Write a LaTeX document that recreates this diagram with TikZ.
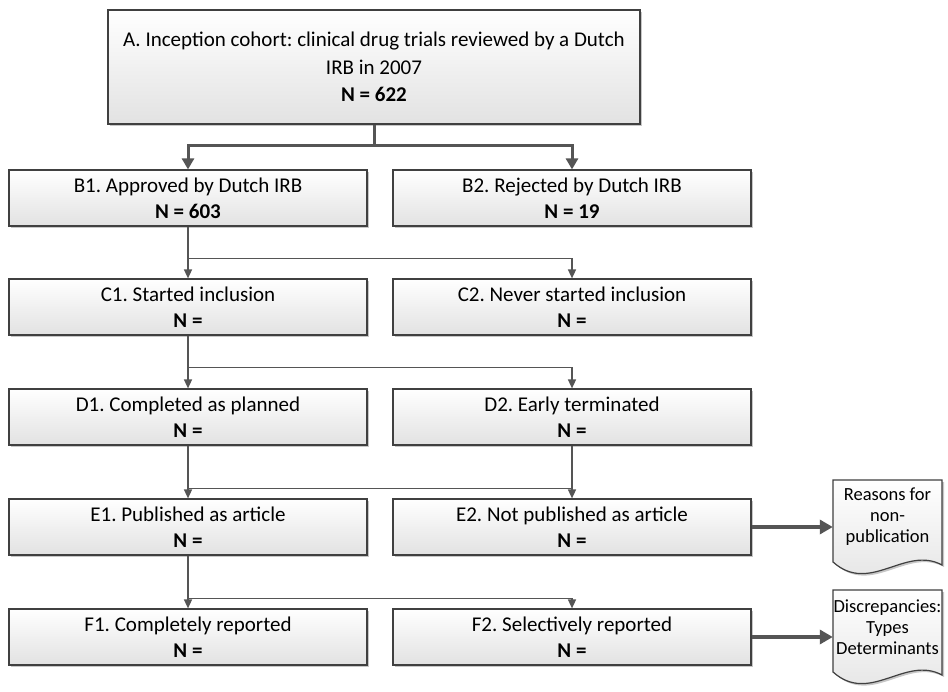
\documentclass[tikz,border=0pt]{standalone}
\usepackage{fontspec}
\setmainfont{Carlito}
\frenchspacing
\usetikzlibrary{arrows.meta,shadows,calc}
\definecolor{edgecol}{HTML}{404040}
\definecolor{conncol}{HTML}{555555}
\definecolor{boxbot}{HTML}{E2E2E2}
\tikzset{
  shadowed/.style={drop shadow={shadow xshift=2pt, shadow yshift=-2pt, fill=black, opacity=0.22}},
  box/.style={draw=edgecol, line width=1.2pt, top color=white, bottom color=boxbot,
    minimum width=358pt, minimum height=56pt, inner sep=0pt, align=center,
    font=\fontsize{21}{26}\selectfont, shadowed},
  docfill/.style={draw=edgecol, line width=1.2pt, top color=white, bottom color=boxbot, shadowed},
  doctext/.style={minimum width=109pt, inner sep=0pt, align=center, font=\fontsize{18.5}{21}\selectfont},
  conn/.style={draw=conncol, line width=1.5pt},
  arr/.style={conn, -{Triangle[length=9pt,width=8pt]}},
  bigconn/.style={draw=conncol, line width=3pt},
  bigarr/.style={bigconn, -{Triangle[length=11pt,width=12pt]}},
  docarr/.style={draw=conncol, line width=3.5pt, -{Triangle[length=13pt,width=14pt]}}
}
\begin{document}
\begin{tikzpicture}[x=1pt,y=-1pt]
\useasboundingbox (0,0) rectangle (948,692);
\fill[white] (0,0) rectangle (948,692);

\node[box, minimum width=532pt, minimum height=114pt, font=\fontsize{21}{27.5}\selectfont] (A) at (374,67)
  {A. Inception cohort: clinical drug trials reviewed by a Dutch\\IRB in 2007\\\textbf{N = 622}};

\node[box] (B1) at (188,198) {B1. Approved by Dutch IRB\\\textbf{N = 603}};
\node[box] (B2) at (572,198) {B2. Rejected by Dutch IRB\\\textbf{N = 19}};
\node[box] (C1) at (188,307) {C1. Started inclusion\\\textbf{N =}};
\node[box] (C2) at (572,307) {C2. Never started inclusion\\\textbf{N =}};
\node[box] (D1) at (188,417) {D1. Completed as planned\\\textbf{N =}};
\node[box] (D2) at (572,417) {D2. Early terminated\\\textbf{N =}};
\node[box] (E1) at (188,527) {E1. Published as article\\\textbf{N =}};
\node[box] (E2) at (572,527) {E2. Not published as article\\\textbf{N =}};
\node[box] (F1) at (188,637) {F1. Completely reported\\\textbf{N =}};
\node[box] (F2) at (572,637) {F2. Selectively reported\\\textbf{N =}};

\begin{scope}[shift={(887.5,517)}]
  \path[docfill] (-54.5,-37) -- (54.5,-37) -- (54.5,48) .. controls (17.5,28) and (-17.5,78) .. (-54.5,45) -- cycle;
  \node[doctext] (R) at (0,0) {Reasons for\\non-\\publication};
\end{scope}
\begin{scope}[shift={(887.5,627)}]
  \path[docfill] (-54.5,-37) -- (54.5,-37) -- (54.5,48) .. controls (17.5,28) and (-17.5,78) .. (-54.5,45) -- cycle;
  \node[doctext] (S) at (0,0) {Discrepancies:\\Types\\Determinants};
\end{scope}

% A -> B
\draw[bigconn] (A.south) -- ++(0,21) coordinate (ab);
\draw[bigarr] (ab) -| (B1.north);
\draw[bigarr] (ab) -| (B2.north);

% B -> C
\coordinate (bc) at ($(B1.south)+(0,32)$);
\draw[arr] (B1.south) -- (C1.north);
\draw[arr] (bc) -| (C2.north);

% C -> D
\coordinate (cd) at ($(C1.south)+(0,32)$);
\draw[arr] (C1.south) -- (D1.north);
\draw[arr] (cd) -| (D2.north);

% D -> E
\coordinate (de) at ($(D1.south)+(0,43)$);
\draw[arr] (D1.south) -- (E1.north);
\draw[arr] (D2.south) -- (E2.north);
\draw[conn] (de) -- (de -| E2.north);

% E -> F
\coordinate (ef) at ($(E1.south)+(0,43)$);
\draw[arr] (E1.south) -- (F1.north);
\draw[arr] (ef) -| (F2.north);

% to documents
\draw[docarr] (E2.east) -- (E2.east -| R.west);
\draw[docarr] (F2.east) -- (F2.east -| S.west);
\end{tikzpicture}
\end{document}
